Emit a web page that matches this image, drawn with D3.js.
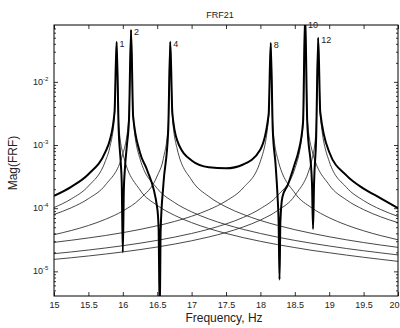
<!DOCTYPE html>
<html>
<head>
<meta charset="utf-8">
<script src="https://cdn.jsdelivr.net/npm/d3@7"></script>
<style>
  body { margin: 0; background: #fff; }
  text { font-family: "Liberation Sans", Arial, sans-serif; fill: #222; }
</style>
</head>
<body>
<svg id="chart" width="400" height="328"></svg>
<script>
// magnitudes are written in units of 1e-4
const UNIT = 1e-4;

// single mode curves
const mode1Freq = [15, 15.25, 15.5, 15.75, 15.81, 15.88, 15.91, 15.94, 16, 16.25, 16.5, 16.75, 17, 17.25, 17.5, 17.75, 18, 18.25, 18.5, 18.75, 19, 19.25, 19.5, 19.75, 20];
const mode1Mag  = [1.024, 1.40, 2.236, 5.68, 9.08, 30.0, 430, 22.3, 7.39, 1.94, 1.109, 0.773, 0.591, 0.477, 0.399, 0.342, 0.299, 0.265, 0.238, 0.215, 0.197, 0.181, 0.167, 0.155, 0.144];

const mode2Freq = [15, 15.25, 15.5, 15.75, 16, 16.09, 16.12, 16.15, 16.25, 16.5, 16.75, 17, 17.25, 17.5, 17.75, 18, 18.25, 18.5, 18.75, 19, 19.25, 19.5, 19.75, 20];
const mode2Mag  = [0.795, 1.015, 1.413, 2.349, 7.19, 28.9, 665, 26.3, 6.06, 2.056, 1.231, 0.875, 0.676, 0.55, 0.462, 0.398, 0.348, 0.309, 0.278, 0.252, 0.23, 0.212, 0.196, 0.182];

const mode4Freq = [15, 15.25, 15.5, 15.75, 16, 16.25, 16.5, 16.59, 16.66, 16.69, 16.72, 16.79, 17, 17.25, 17.5, 17.75, 18, 18.25, 18.5, 18.75, 19, 19.25, 19.5, 19.75, 20];
const mode4Mag  = [0.381, 0.443, 0.532, 0.669, 0.904, 1.407, 3.233, 6.13, 20.4, 430, 29.1, 8.71, 2.787, 1.532, 1.051, 0.797, 0.64, 0.534, 0.457, 0.399, 0.353, 0.316, 0.286, 0.261, 0.24];

const mode8Freq = [15, 15.25, 15.5, 15.75, 16, 16.25, 16.5, 16.75, 17, 17.25, 17.5, 17.75, 18, 18.12, 18.15, 18.18, 18.25, 18.5, 18.75, 19, 19.25, 19.5, 19.75, 20];
const mode8Mag  = [0.288, 0.311, 0.338, 0.37, 0.41, 0.461, 0.527, 0.616, 0.745, 0.945, 1.299, 2.096, 5.55, 27.6, 414, 20.5, 6.13, 1.738, 1.007, 0.706, 0.542, 0.439, 0.368, 0.316];

const mode10Freq = [15, 15.25, 15.5, 15.75, 16, 16.25, 16.5, 16.75, 17, 17.25, 17.5, 17.75, 18, 18.25, 18.5, 18.62, 18.65, 18.68, 18.75, 19, 19.25, 19.5, 19.75, 20];
const mode10Mag  = [0.1905, 0.203, 0.2175, 0.2346, 0.2548, 0.2794, 0.3096, 0.348, 0.398, 0.466, 0.563, 0.714, 0.982, 1.585, 4.2, 20.9, 1259, 27.5, 8.24, 2.337, 1.354, 0.95, 0.729, 0.59];

const mode12Freq = [15, 15.25, 15.5, 15.75, 16, 16.25, 16.5, 16.75, 17, 17.25, 17.5, 17.75, 18, 18.25, 18.5, 18.75, 18.81, 18.84, 18.87, 19, 19.25, 19.5, 19.75, 20];
const mode12Mag  = [0.1547, 0.1642, 0.1752, 0.188, 0.2031, 0.2211, 0.243, 0.2702, 0.3048, 0.3502, 0.4127, 0.504, 0.649, 0.918, 1.583, 5.93, 17.8, 497, 29.6, 5.52, 2.14, 1.32, 0.951, 0.741];

// full FRF21 (thick line)
const totalFreq = [15, 15.25, 15.5, 15.75, 15.81, 15.88, 15.91, 15.94, 15.97, 15.985, 16, 16.015, 16.03, 16.06, 16.09, 16.12, 16.15, 16.25, 16.35, 16.5, 16.52, 16.537, 16.55, 16.59, 16.66, 16.69, 16.72, 16.79, 17, 17.25, 17.5, 17.75, 18, 18.12, 18.15, 18.18, 18.22, 18.25, 18.265, 18.278, 18.29, 18.32, 18.4, 18.5, 18.55, 18.62, 18.65, 18.68, 18.75, 18.765, 18.78, 18.81, 18.84, 18.87, 19, 19.25, 19.5, 19.75, 20];
const totalMag  = [1.567, 2.18, 3.45, 7.905, 11.79, 33.6, 430, 17.5, 5.33, 2.46, 0.2, 1.94, 4.11, 10.03, 25.4, 665, 28.8, 7.55, 4.1, 1.01, 0.504, 0.02, 0.435, 2.38, 16.93, 430, 32.4, 11.87, 5.7, 4.446, 4.275, 4.915, 8.518, 30.8, 414, 17.13, 5.0, 1.5, 0.6, 0.074, 0.6, 1.5, 2.37, 5.05, 7.6, 23.0, 1259, 24.4, 2.425, 0.47, 2.49, 12.6, 497, 33.3, 7.76, 3.309, 2.044, 1.436, 1.0];

// peak labels
const peakLabels = ["1", "2", "4", "8", "10", "12"];
const peakFreqs  = [15.91, 16.12, 16.69, 18.15, 18.65, 18.84];
const peakMags   = [430, 665, 430, 414, 1259, 497];

const xTicks = [15, 15.5, 16, 16.5, 17, 17.5, 18, 18.5, 19, 19.5, 20];
const yMajor = [1e-5, 1e-4, 1e-3, 1e-2];
const yExponents = ["-5", "-4", "-3", "-2"];

const margin = { left: 54, right: 2, top: 25, bottom: 32 };
const width = 400, height = 328;

const svg = d3.select("#chart");

const x = d3.scaleLinear().domain([15, 20]).range([margin.left, width - margin.right]);
const y = d3.scaleLog().domain([Math.pow(10, -5.39), Math.pow(10, -1.1)]).range([height - margin.bottom, margin.top]);

// minor log ticks inside the domain
let yMinor = [];
for (let e = -6; e <= -2; e++) {
  for (let k = 2; k <= 9; k++) {
    let v = k * Math.pow(10, e);
    if (v > y.domain()[0] && v < y.domain()[1]) yMinor.push(v);
  }
}

svg.append("defs").append("clipPath").attr("id", "plotclip")
  .append("rect")
  .attr("x", x.range()[0]).attr("y", y.range()[1])
  .attr("width", x.range()[1] - x.range()[0])
  .attr("height", y.range()[0] - y.range()[1]);

const line = d3.line()
  .x(d => x(d[0]))
  .y(d => y(d[1] * UNIT))
  .curve(d3.curveMonotoneX);

const modes = [
  [mode1Freq, mode1Mag],
  [mode2Freq, mode2Mag],
  [mode4Freq, mode4Mag],
  [mode8Freq, mode8Mag],
  [mode10Freq, mode10Mag],
  [mode12Freq, mode12Mag]
];

const plot = svg.append("g").attr("clip-path", "url(#plotclip)");

plot.selectAll(".mode")
  .data(modes)
  .join("path")
  .attr("class", "mode")
  .attr("fill", "none")
  .attr("stroke", "#333")
  .attr("stroke-width", 0.9)
  .attr("d", m => line(d3.zip(m[0], m[1])));

plot.append("path")
  .attr("fill", "none")
  .attr("stroke", "#000")
  .attr("stroke-width", 2)
  .attr("d", line(d3.zip(totalFreq, totalMag)));

// axes, MATLAB style: ticks pointing inward on all four sides
const x0 = x.range()[0], x1 = x.range()[1];
const y0 = y.range()[0], y1 = y.range()[1];

const xBottom = svg.append("g").attr("transform", `translate(0,${y0})`)
  .call(d3.axisBottom(x).tickValues(xTicks).tickSize(-4).tickPadding(6).tickFormat(d3.format("")));
const xTop = svg.append("g").attr("transform", `translate(0,${y1})`)
  .call(d3.axisTop(x).tickValues(xTicks).tickSize(-4).tickFormat(""));
const yLeft = svg.append("g").attr("transform", `translate(${x0},0)`)
  .call(d3.axisLeft(y).tickValues(yMajor).tickSize(-4).tickFormat(""));
const yLeftMinor = svg.append("g").attr("transform", `translate(${x0},0)`)
  .call(d3.axisLeft(y).tickValues(yMinor).tickSize(-2).tickFormat(""));
const yRight = svg.append("g").attr("transform", `translate(${x1},0)`)
  .call(d3.axisRight(y).tickValues(yMajor).tickSize(-4).tickFormat(""));
const yRightMinor = svg.append("g").attr("transform", `translate(${x1},0)`)
  .call(d3.axisRight(y).tickValues(yMinor).tickSize(-2).tickFormat(""));

svg.selectAll(".domain").remove();
svg.selectAll(".tick line").attr("stroke", "#000").attr("stroke-width", 0.8);
xBottom.selectAll("text").attr("font-size", 9).attr("fill", "#222")
  .attr("font-family", "Liberation Sans, Arial, sans-serif");
// last label sits against the page edge, keep it inside
xBottom.selectAll("text").filter(d => d === 20).attr("text-anchor", "end").attr("x", 1);

// y tick labels: 10 with a superscript exponent
const yLab = svg.append("g").selectAll("text")
  .data(yMajor)
  .join("text")
  .attr("x", x0 - 21)
  .attr("y", d => y(d) + 3)
  .attr("font-size", 9);
yLab.append("tspan").text("10");
yLab.append("tspan").attr("dy", -4).attr("font-size", 6).text((d, i) => yExponents[i]);

// box
svg.append("rect")
  .attr("x", x0).attr("y", y1)
  .attr("width", x1 - x0).attr("height", y0 - y1)
  .attr("fill", "none").attr("stroke", "#000").attr("stroke-width", 1);

// peak numbers
svg.append("g").selectAll("text")
  .data(peakLabels)
  .join("text")
  .attr("x", (d, i) => x(peakFreqs[i]) + 3)
  .attr("y", (d, i) => Math.max(y(peakMags[i] * UNIT), y1 - 2) + 5)
  .attr("font-size", 9)
  .text(d => d);

// titles
svg.append("text")
  .attr("x", 220).attr("y", 18)
  .attr("text-anchor", "middle")
  .attr("font-size", 9)
  .text("FRF21");

svg.append("text")
  .attr("x", 224).attr("y", 322)
  .attr("text-anchor", "middle")
  .attr("font-size", 12)
  .text("Frequency, Hz");

svg.append("text")
  .attr("transform", "translate(17,163) rotate(-90)")
  .attr("text-anchor", "middle")
  .attr("font-size", 12)
  .text("Mag(FRF)");
</script>
</body>
</html>
